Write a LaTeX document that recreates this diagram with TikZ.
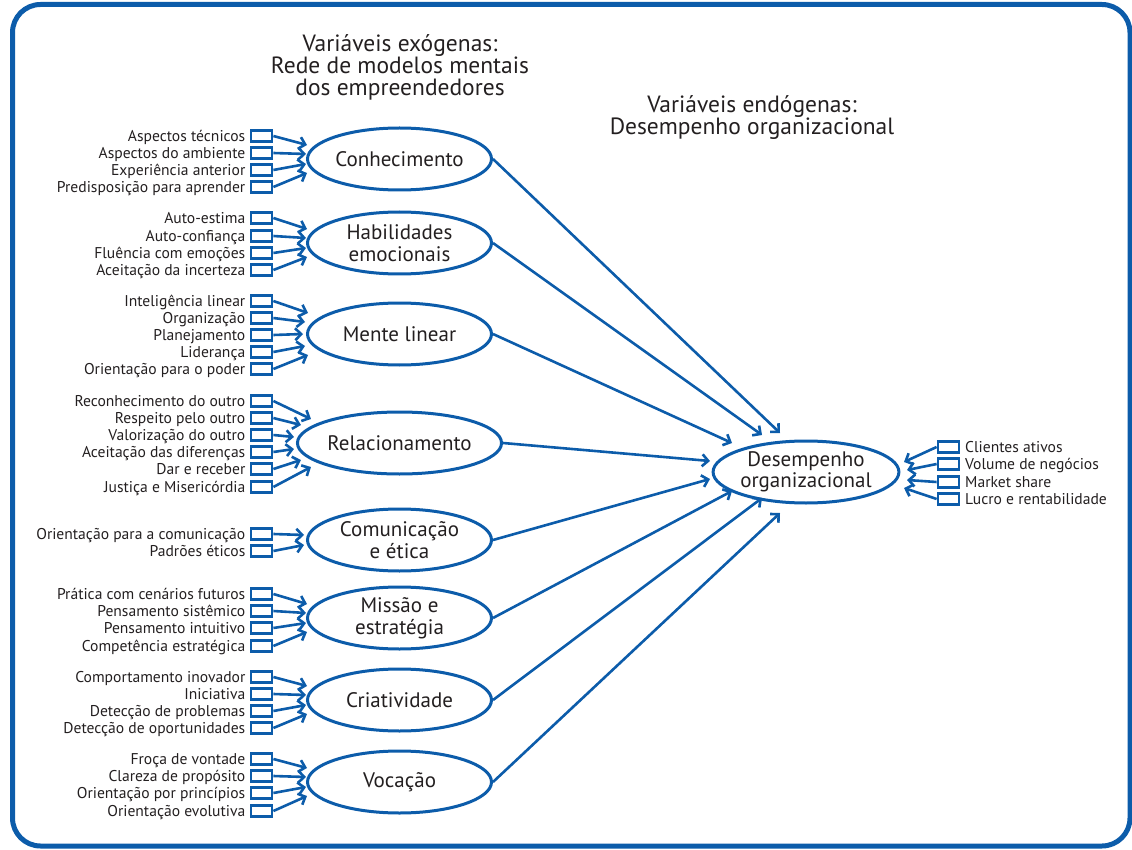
\documentclass[tikz,border=0pt]{standalone}
\usepackage{fontspec}
\setmainfont{PT Sans}
\usetikzlibrary{shapes.geometric,arrows.meta,calc}
\definecolor{blu}{RGB}{12,92,170}
\definecolor{txt}{RGB}{35,31,32}
\tikzset{
 ibox/.style={draw=blu, line width=2.8pt, minimum width=21pt, minimum height=10.5pt, inner sep=0pt},
 llab/.style={anchor=base east, font=\fontsize{15.6}{16}\selectfont, text=txt, inner sep=0pt},
 rlab/.style={anchor=base west, font=\fontsize{15.6}{16}\selectfont, text=txt, inner sep=0pt},
 ell/.style={ellipse, draw=blu, line width=3pt, minimum width=184pt, minimum height=62pt, inner sep=0pt, align=center, text=txt, font=\fontsize{21}{21.5}\selectfont},
 arr/.style={draw=blu, line width=2.6pt, -{Straight Barb[length=6pt,width=12pt]}},
 ttl/.style={align=center, text=txt, font=\fontsize{23.5}{22}\selectfont, inner sep=0pt}
}
\newcommand\lrow[5]{% name, y, text, target, offset
 \node[ibox] (#1) at (261.5,#2) {};
 \node[llab] (#1t) at (245.5,#2+5.5) {#3};
 \draw[arr] (#1.east) -- ($(#4.west)+#5$);
}
\newcommand\rrow[4]{% name, y, text, offset
 \node[ibox] (#1) at (948.5,#2) {};
 \node[rlab] (#1t) at (965,#2+5.5) {#3};
 \draw[arr] (#1.west) -- ($(des.center)+#4$);
}
\begin{document}
\begin{tikzpicture}[x=1pt,y=-1pt]
\useasboundingbox (0,0) rectangle (1132,850);
\draw[blu, line width=5pt, rounded corners=28pt] (12.5,4.5) rectangle (1130,846);

\node[ttl] (t1) at (400,67) {Variáveis exógenas:\\Rede de modelos mentais\\dos empreendedores};
\node[ttl] (t2) at (752,118) {Variáveis endógenas:\\Desempenho organizacional};

\node[ell] (c1) at (399.5,159) {Conhecimento};
\node[ell] (c2) at (399.5,243) {Habilidades\\emocionais};
\node[ell] (c3) at (399.5,334) {Mente linear};
\node[ell] (c4) at (399.5,443) {Relacionamento};
\node[ell] (c5) at (399.5,540) {Comunicação\\e ética};
\node[ell] (c6) at (399.5,618) {Missão e\\estratégia};
\node[ell] (c7) at (399.5,700) {Criatividade};
\node[ell] (c8) at (399.5,782) {Vocação};
\node[ell] (des) at (806,472) {Desempenho\\organizacional};

% Conhecimento
\lrow{a1}{136}{Aspectos técnicos}{c1}{(1,-14)}
\lrow{a2}{153}{Aspectos do ambiente}{c1}{(0,-5)}
\lrow{a3}{170}{Experiência anterior}{c1}{(0,5)}
\lrow{a4}{187}{Predisposição para aprender}{c1}{(1,14)}
% Habilidades
\lrow{b1}{218}{Auto-estima}{c2}{(1,-14)}
\lrow{b2}{236}{Auto-confiança}{c2}{(0,-5)}
\lrow{b3}{253}{Fluência com emoções}{c2}{(0,5)}
\lrow{b4}{270}{Aceitação da incerteza}{c2}{(1,14)}
% Mente linear
\lrow{m1}{301}{Inteligência linear}{c3}{(2,-21)}
\lrow{m2}{318}{Organização}{c3}{(-1,-12)}
\lrow{m3}{335}{Planejamento}{c3}{(-3,0)}
\lrow{m4}{352}{Liderança}{c3}{(-1,12)}
\lrow{m5}{369}{Orientação para o poder}{c3}{(2,21)}
% Relacionamento
\lrow{r1}{401}{Reconhecimento do outro}{c4}{(15,-24)}
\lrow{r2}{418}{Respeito pelo outro}{c4}{(5,-18)}
\lrow{r3}{435}{Valorização do outro}{c4}{(-2,-6)}
\lrow{r4}{452}{Aceitação das diferenças}{c4}{(-2,6)}
\lrow{r5}{469}{Dar e receber}{c4}{(5,17)}
\lrow{r6}{487}{Justiça e Misericórdia}{c4}{(15,24)}
% Comunicação
\lrow{k1}{534}{Orientação para a comunicação}{c5}{(-2,-5)}
\lrow{k2}{551}{Padrões éticos}{c5}{(-2,5)}
% Missão
\lrow{s1}{594}{Prática com cenários futuros}{c6}{(1,-14)}
\lrow{s2}{611}{Pensamento sistêmico}{c6}{(0,-5)}
\lrow{s3}{628}{Pensamento intuitivo}{c6}{(0,5)}
\lrow{s4}{646}{Competência estratégica}{c6}{(1,14)}
% Criatividade
\lrow{v1}{677}{Comportamento inovador}{c7}{(1,-14)}
\lrow{v2}{694}{Iniciativa}{c7}{(0,-5)}
\lrow{v3}{711}{Detecção de problemas}{c7}{(0,5)}
\lrow{v4}{728}{Detecção de oportunidades}{c7}{(1,14)}
% Vocação
\lrow{w1}{759}{Froça de vontade}{c8}{(1,-14)}
\lrow{w2}{776}{Clareza de propósito}{c8}{(0,-5)}
\lrow{w3}{793}{Orientação por princípios}{c8}{(0,5)}
\lrow{w4}{811}{Orientação evolutiva}{c8}{(1,14)}

% long arrows
\draw[arr] (c1.east) -- ($(des.center)+(-26,-39)$);
\draw[arr] (c2.east) -- ($(des.center)+(-44,-37)$);
\draw[arr] (c3.east) -- ($(des.center)+(-74,-29)$);
\draw[arr] (c4.east) -- ($(des.center)+(-96,-11)$);
\draw[arr] (c5.east) -- ($(des.center)+(-96,7)$);
\draw[arr] (c6.east) -- ($(des.center)+(-74,19)$);
\draw[arr] (c7.east) -- ($(des.center)+(-44,26)$);
\draw[arr] (c8.east) -- ($(des.center)+(-26,41)$);

% right items
\rrow{d1}{447}{Clientes ativos}{(98,-10)}
\rrow{d2}{464}{Volume de negócios}{(101,-2)}
\rrow{d3}{482}{Market share}{(101,8)}
\rrow{d4}{499}{Lucro e rentabilidade}{(98,16)}
\end{tikzpicture}
\end{document}
